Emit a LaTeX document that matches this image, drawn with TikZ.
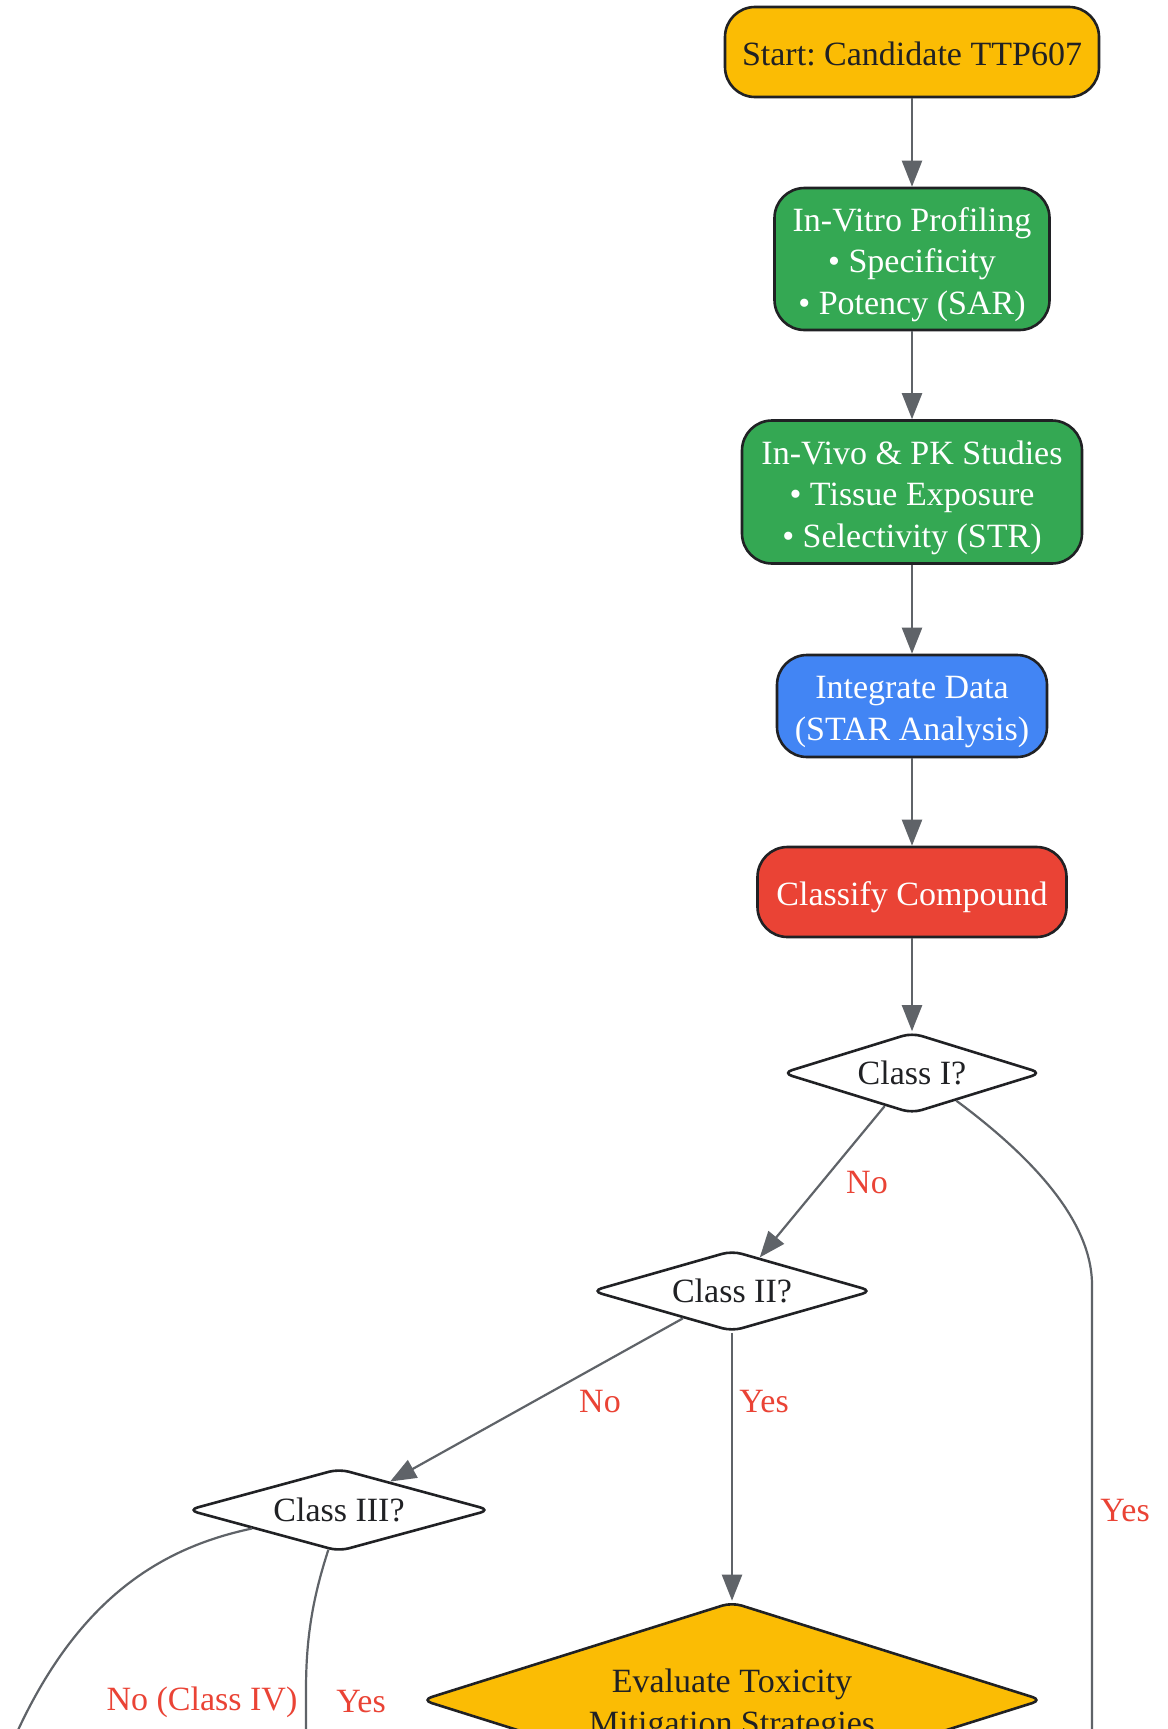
\documentclass[tikz,border=0pt]{standalone}
\usepackage{fontspec}
\setmainfont{Liberation Serif}
\frenchspacing
\usetikzlibrary{shapes.geometric,arrows.meta}
\definecolor{gy}{HTML}{FBBC04}
\definecolor{gg}{HTML}{34A853}
\definecolor{gb}{HTML}{4285F4}
\definecolor{grd}{HTML}{EA4335}
\definecolor{edgec}{HTML}{5F6368}
\definecolor{ink}{HTML}{202124}
\begin{document}
\begin{tikzpicture}[x=1pt,y=1pt,
  txt/.style={font=\fontsize{34}{41.5}\selectfont\frenchspacing},
  one/.style={text height=34.25pt,text depth=7.25pt},
  two/.style={text height=75.75pt,text depth=7.25pt},
  three/.style={text height=117.25pt,text depth=7.25pt},
  box/.style={txt,draw=ink,line width=2.6pt,rounded corners=30pt,align=center,inner sep=0pt},
  dec/.style={txt,diamond,aspect=3.2,draw=ink,line width=2.6pt,rounded corners=10pt,align=center,inner sep=0pt,text=ink,fill=white},
  flow/.style={draw=edgec,line width=2.2pt,-{Triangle[length=26pt,width=20pt]}},
  plain/.style={draw=edgec,line width=2.2pt},
  lbl/.style={txt,text=grd,inner sep=0pt}]
\path[use as bounding box] (0,0) rectangle (1167,-1729);
\clip (0,0) rectangle (1167,-1729);
\fill[white] (0,0) rectangle (1167,-1729);

\node[box,one,fill=gy,text=ink,minimum width=374pt,minimum height=90pt] (start) at (912,-52) {Start: Candidate TTP607};
\node[box,three,fill=gg,text=white,minimum width=275pt,minimum height=142pt] (vitro) at (912,-259) {In-Vitro Profiling\\• Specificity\\• Potency (SAR)};
\node[box,three,fill=gg,text=white,minimum width=340pt,minimum height=143pt] (vivo) at (912,-492) {In-Vivo \& PK Studies\\• Tissue Exposure\\• Selectivity (STR)};
\node[box,two,fill=gb,text=white,minimum width=270pt,minimum height=102pt] (integ) at (912,-706) {Integrate Data\\(STAR Analysis)};
\node[box,one,fill=grd,text=white,minimum width=309pt,minimum height=90pt] (classify) at (912,-892) {Classify Compound};

\node[dec,minimum width=260pt,minimum height=81pt] (c1) at (912,-1073) {Class I?};
\node[dec,minimum width=281pt,minimum height=81pt] (c2) at (732,-1291) {Class II?};
\node[dec,minimum width=303pt,minimum height=83pt] (c3) at (339,-1510) {Class III?};
\node[dec,two,fill=gy,minimum width=621pt,minimum height=196pt] (eval) at (732,-1700) {Evaluate Toxicity\\Mitigation Strategies};

\coordinate (y1end) at (1092,-1800);
\coordinate (n3end) at (5,-1760);
\coordinate (y3end) at (306,-1800);

\draw[flow] (start) -- (vitro);
\draw[flow] (vitro) -- (vivo);
\draw[flow] (vivo) -- (integ);
\draw[flow] (integ) -- (classify);
\draw[flow] (classify) -- (c1);
\draw[flow] (c1) -- (c2);
\draw[flow] (c2) -- (c3);
\draw[flow] (c2) -- (eval);
\draw[plain] (c1.-32) .. controls (1020,-1148) and (1092,-1215) .. (1092,-1285) -- (y1end);
\draw[plain] (c3.192) .. controls (160,-1548) and (70,-1600) .. (n3end);
\draw[plain] (c3.255) .. controls (312,-1600) and (306,-1640) .. (306,-1690) -- (y3end);

\node[lbl] (l1) at (867,-1183) {No};
\node[lbl] (l2) at (600,-1402) {No};
\node[lbl] (l3) at (764,-1402) {Yes};
\node[lbl] (l4) at (1125,-1511) {Yes};
\node[lbl] (l5) at (202,-1702) {No (Class IV)};
\node[lbl] (l6) at (361,-1702) {Yes};
\end{tikzpicture}
\end{document}
